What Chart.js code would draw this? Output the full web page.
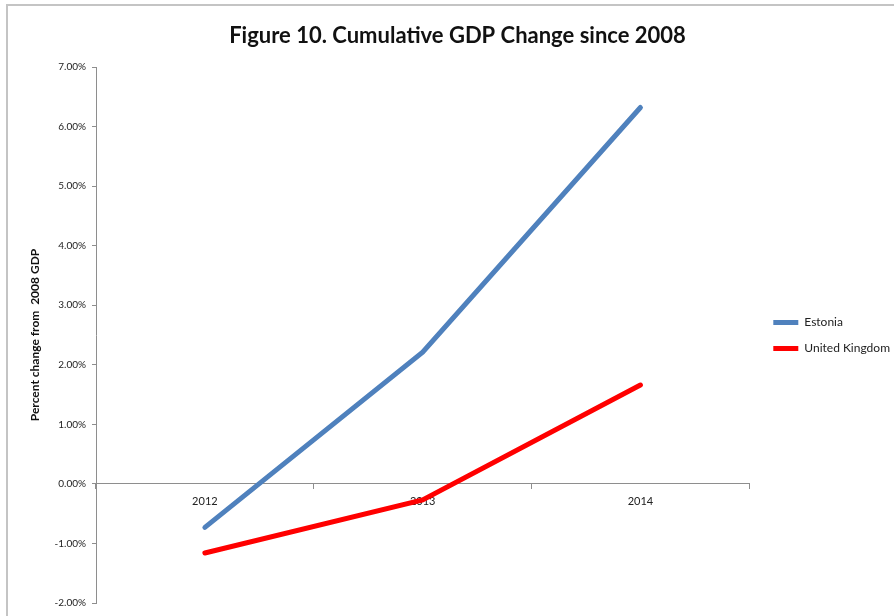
<!DOCTYPE html>
<html>
<head>
<meta charset="utf-8">
<script src="https://cdn.jsdelivr.net/npm/chart.js@4"></script>
<style>
  body { margin: 0; background: #fff; }
  #frame { position: absolute; left: 6px; top: 4px; width: 900px; height: 620px;
           border-top: 2px solid #c4c4c4; border-left: 2px solid #c4c4c4; }
  #wrap { position: absolute; left: 0; top: 0; width: 894px; height: 616px; }
</style>
</head>
<body>
<div id="frame"></div>
<div id="wrap"><canvas id="gdp" width="894" height="616"></canvas></div>
<script>
// cumulative change vs 2008 GDP, in percent
const years = ['2012', '2013', '2014'];
const estonia = [-0.73, 2.21, 6.32];
const unitedKingdom = [-1.16, -0.27, 1.66];

const axisColor = '#8e8e8e';
const font = 'Lato, "Open Sans", sans-serif';

// nudge title and legend a few px to the right after layout
const nudge = {
    id: 'nudge',
    afterLayout(chart) {
        if (chart.legend) { chart.legend.left += 10; chart.legend.right += 10; }
        if (chart.titleBlock) { chart.titleBlock.left += 7.5; chart.titleBlock.right += 7.5; }
    }
};

const ctx = document.getElementById('gdp').getContext('2d');
const chart = new Chart(ctx, {
    type: 'line',
    data: {
        labels: years,
        datasets: [
            {
                label: 'Estonia',
                data: estonia,
                borderColor: '#4f81bd',
                backgroundColor: '#4f81bd',
                borderWidth: 5,
                borderCapStyle: 'round',
                pointRadius: 0,
                tension: 0
            },
            {
                label: 'United Kingdom',
                data: unitedKingdom,
                borderColor: '#ff0000',
                backgroundColor: '#ff0000',
                borderWidth: 5,
                borderCapStyle: 'round',
                pointRadius: 0,
                tension: 0
            }
        ]
    },
    plugins: [nudge],
    options: {
        responsive: false,
        animation: false,
        layout: { padding: { left: 10, right: 4, top: 10, bottom: 13 } },
        plugins: {
            title: {
                display: true,
                text: 'Figure 10. Cumulative GDP Change since 2008',
                color: '#111',
                font: { family: font, size: 22, weight: 'bold' },
                padding: { top: 13, bottom: 17.6 }
            },
            legend: {
                position: 'right',
                // empty title just pushes the entries down a bit
                title: { display: true, text: ' ', font: { size: 10 }, padding: 23 },
                labels: {
                    color: '#222',
                    font: { family: font, size: 12 },
                    boxWidth: 25,
                    boxHeight: 5,
                    padding: 14,
                    // plain filled swatch, no outline
                    generateLabels: (c) => Chart.defaults.plugins.legend.labels.generateLabels(c)
                        .map(l => ({ ...l, lineWidth: 0, fillStyle: l.strokeStyle }))
                }
            },
            tooltip: { enabled: false }
        },
        scales: {
            x: {
                position: { y: 0 },
                offset: true,
                grid: { display: true, drawOnChartArea: false, offset: true, tickLength: 5, color: axisColor },
                border: { color: axisColor },
                ticks: { color: '#222', padding: 6, font: { family: font, size: 11 } }
            },
            y: {
                min: -2,
                max: 7,
                afterFit: (s) => { s.width = 86; },
                grid: { display: true, drawOnChartArea: false, tickLength: 4, color: axisColor },
                border: { color: axisColor },
                ticks: {
                    stepSize: 1,
                    color: '#222',
                    padding: 6,
                    font: { family: font, size: 10 },
                    callback: (v) => v.toFixed(2) + '%'
                },
                title: {
                    display: true,
                    text: 'Percent change from  2008 GDP',
                    color: '#111',
                    font: { family: font, size: 12, weight: 'bold' },
                    padding: { top: 18, bottom: 0 }
                }
            }
        }
    }
});
</script>
</body>
</html>
